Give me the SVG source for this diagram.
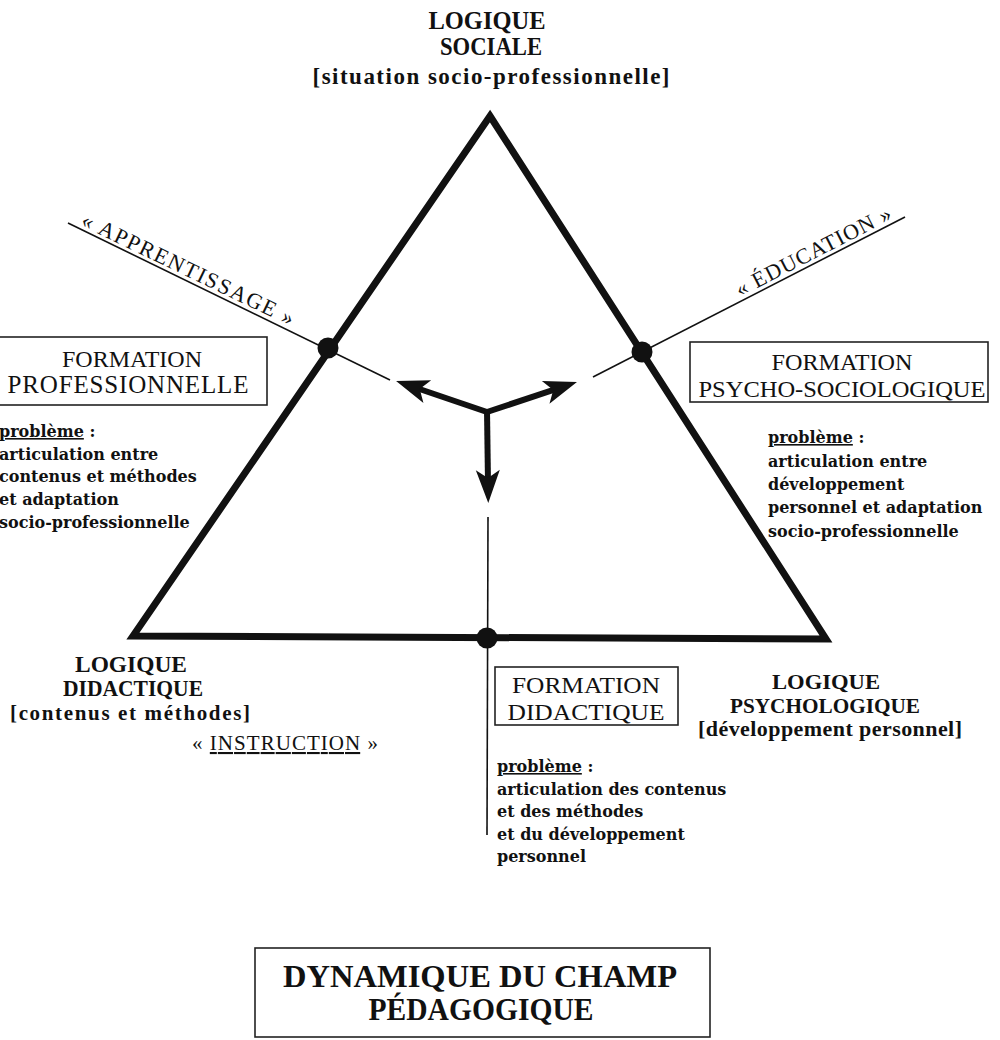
<svg xmlns="http://www.w3.org/2000/svg" width="1000" height="1040" viewBox="0 0 1000 1040">
<defs>
<style>
.cap{font-family:"Liberation Serif","Times New Roman",serif;fill:#111;}
.b{font-weight:bold;}
.prob{font-family:"DejaVu Serif","Liberation Serif",serif;font-weight:bold;font-size:16px;fill:#111;}
.box{fill:none;stroke:#222;stroke-width:1.6;}
.thin{fill:none;stroke:#111;stroke-width:1.6;}
.tri{fill:none;stroke:#111;stroke-width:7;stroke-linejoin:miter;}
.shaft{stroke:#111;stroke-width:6;fill:none;}
</style>
<marker id="ah" viewBox="-15 -14 38 28" refX="0" refY="0" markerWidth="38" markerHeight="28" markerUnits="userSpaceOnUse" orient="auto">
<path d="M20,0 L-13,-12 L-5,0 L-13,12 Z" fill="#111"/>
</marker>
</defs>
<rect width="1000" height="1040" fill="#fff"/>

<g id="connectors">
<path class="tri" d="M490,116 L826,639 L133,636 Z"/>
<line class="thin" x1="68" y1="223" x2="390" y2="380"/>
<line class="thin" x1="905" y1="217" x2="593" y2="377"/>
<line class="thin" x1="488" y1="517" x2="487" y2="835"/>
<line class="shaft" x1="487" y1="412" x2="415" y2="387.5" marker-end="url(#ah)"/>
<line class="shaft" x1="487" y1="412" x2="558" y2="388.3" marker-end="url(#ah)"/>
<line class="shaft" x1="487" y1="410" x2="488" y2="483" marker-end="url(#ah)"/>
<circle cx="328" cy="348" r="10.5" fill="#111"/>
<circle cx="642" cy="352" r="10.5" fill="#111"/>
<circle cx="487" cy="638" r="10.5" fill="#111"/>
</g>

<g id="logique-sociale">
<text class="cap b" x="487" y="29" font-size="25" text-anchor="middle" textLength="117" lengthAdjust="spacingAndGlyphs">LOGIQUE</text>
<text class="cap b" x="491" y="55" font-size="25" text-anchor="middle" textLength="102" lengthAdjust="spacingAndGlyphs">SOCIALE</text>
<text class="cap b" x="491" y="84" font-size="23" text-anchor="middle" textLength="357" lengthAdjust="spacing">[situation socio-professionnelle]</text>
</g>

<g id="apprentissage">
<text class="cap" transform="translate(80,225) rotate(25.7)" font-size="22" textLength="233" lengthAdjust="spacing">« APPRENTISSAGE »</text>
</g>

<g id="education">
<text class="cap" transform="translate(740,297) rotate(-27.2)" font-size="22" textLength="172" lengthAdjust="spacing">« ÉDUCATION »</text>
</g>

<g id="formation-professionnelle">
<rect class="box" x="-5" y="337" width="272" height="68"/>
<text class="cap" x="132" y="367" font-size="24" text-anchor="middle" textLength="140" lengthAdjust="spacingAndGlyphs">FORMATION</text>
<text class="cap" x="128" y="393" font-size="25" text-anchor="middle" textLength="241" lengthAdjust="spacing">PROFESSIONNELLE</text>
</g>

<g id="probleme-professionnelle">
<text class="prob" x="-1" y="437"><tspan text-decoration="underline">problème</tspan> :</text>
<text class="prob" x="-1" y="460">articulation entre</text>
<text class="prob" x="-1" y="482">contenus et méthodes</text>
<text class="prob" x="-1" y="505">et adaptation</text>
<text class="prob" x="-1" y="528">socio-professionnelle</text>
</g>

<g id="formation-psycho-sociologique">
<rect class="box" x="690" y="342" width="298" height="60"/>
<text class="cap" x="842" y="370" font-size="24" text-anchor="middle" textLength="141" lengthAdjust="spacingAndGlyphs">FORMATION</text>
<text class="cap" x="842" y="397" font-size="24" text-anchor="middle" textLength="287" lengthAdjust="spacingAndGlyphs">PSYCHO-SOCIOLOGIQUE</text>
</g>

<g id="probleme-psycho">
<text class="prob" x="768" y="443"><tspan text-decoration="underline">problème</tspan> :</text>
<text class="prob" x="768" y="467">articulation entre</text>
<text class="prob" x="768" y="490">développement</text>
<text class="prob" x="768" y="513">personnel et adaptation</text>
<text class="prob" x="768" y="537">socio-professionnelle</text>
</g>

<g id="logique-didactique">
<text class="cap b" x="131" y="672" font-size="23" text-anchor="middle" textLength="112" lengthAdjust="spacingAndGlyphs">LOGIQUE</text>
<text class="cap b" x="133" y="696" font-size="23" text-anchor="middle" textLength="140" lengthAdjust="spacingAndGlyphs">DIDACTIQUE</text>
<text class="cap b" x="130" y="720" font-size="21" text-anchor="middle" textLength="240" lengthAdjust="spacing">[contenus et méthodes]</text>
</g>

<g id="instruction">
<text class="cap" x="285" y="750" font-size="21" text-anchor="middle" textLength="186" lengthAdjust="spacing">« <tspan text-decoration="underline">INSTRUCTION</tspan> »</text>
</g>

<g id="formation-didactique">
<rect class="box" x="495" y="667" width="183" height="58"/>
<text class="cap" x="586" y="693" font-size="24" text-anchor="middle" textLength="148" lengthAdjust="spacingAndGlyphs">FORMATION</text>
<text class="cap" x="586" y="720" font-size="24" text-anchor="middle" textLength="157" lengthAdjust="spacingAndGlyphs">DIDACTIQUE</text>
</g>

<g id="probleme-didactique">
<text class="prob" x="497" y="772"><tspan text-decoration="underline">problème</tspan> :</text>
<text class="prob" x="497" y="795">articulation des contenus</text>
<text class="prob" x="497" y="817">et des méthodes</text>
<text class="prob" x="497" y="840">et du développement</text>
<text class="prob" x="497" y="862">personnel</text>
</g>

<g id="logique-psychologique">
<text class="cap b" x="826" y="689" font-size="22" text-anchor="middle" textLength="108" lengthAdjust="spacingAndGlyphs">LOGIQUE</text>
<text class="cap b" x="825" y="713" font-size="22" text-anchor="middle" textLength="190" lengthAdjust="spacingAndGlyphs">PSYCHOLOGIQUE</text>
<text class="cap b" x="830" y="736" font-size="22" text-anchor="middle" textLength="264" lengthAdjust="spacing">[développement personnel]</text>
</g>

<g id="titre">
<rect class="box" x="255" y="948" width="455" height="89"/>
<text class="cap b" x="480" y="987" font-size="32" text-anchor="middle" textLength="394" lengthAdjust="spacingAndGlyphs">DYNAMIQUE DU CHAMP</text>
<text class="cap b" x="481" y="1020" font-size="32" text-anchor="middle" textLength="225" lengthAdjust="spacingAndGlyphs">PÉDAGOGIQUE</text>
</g>
</svg>
